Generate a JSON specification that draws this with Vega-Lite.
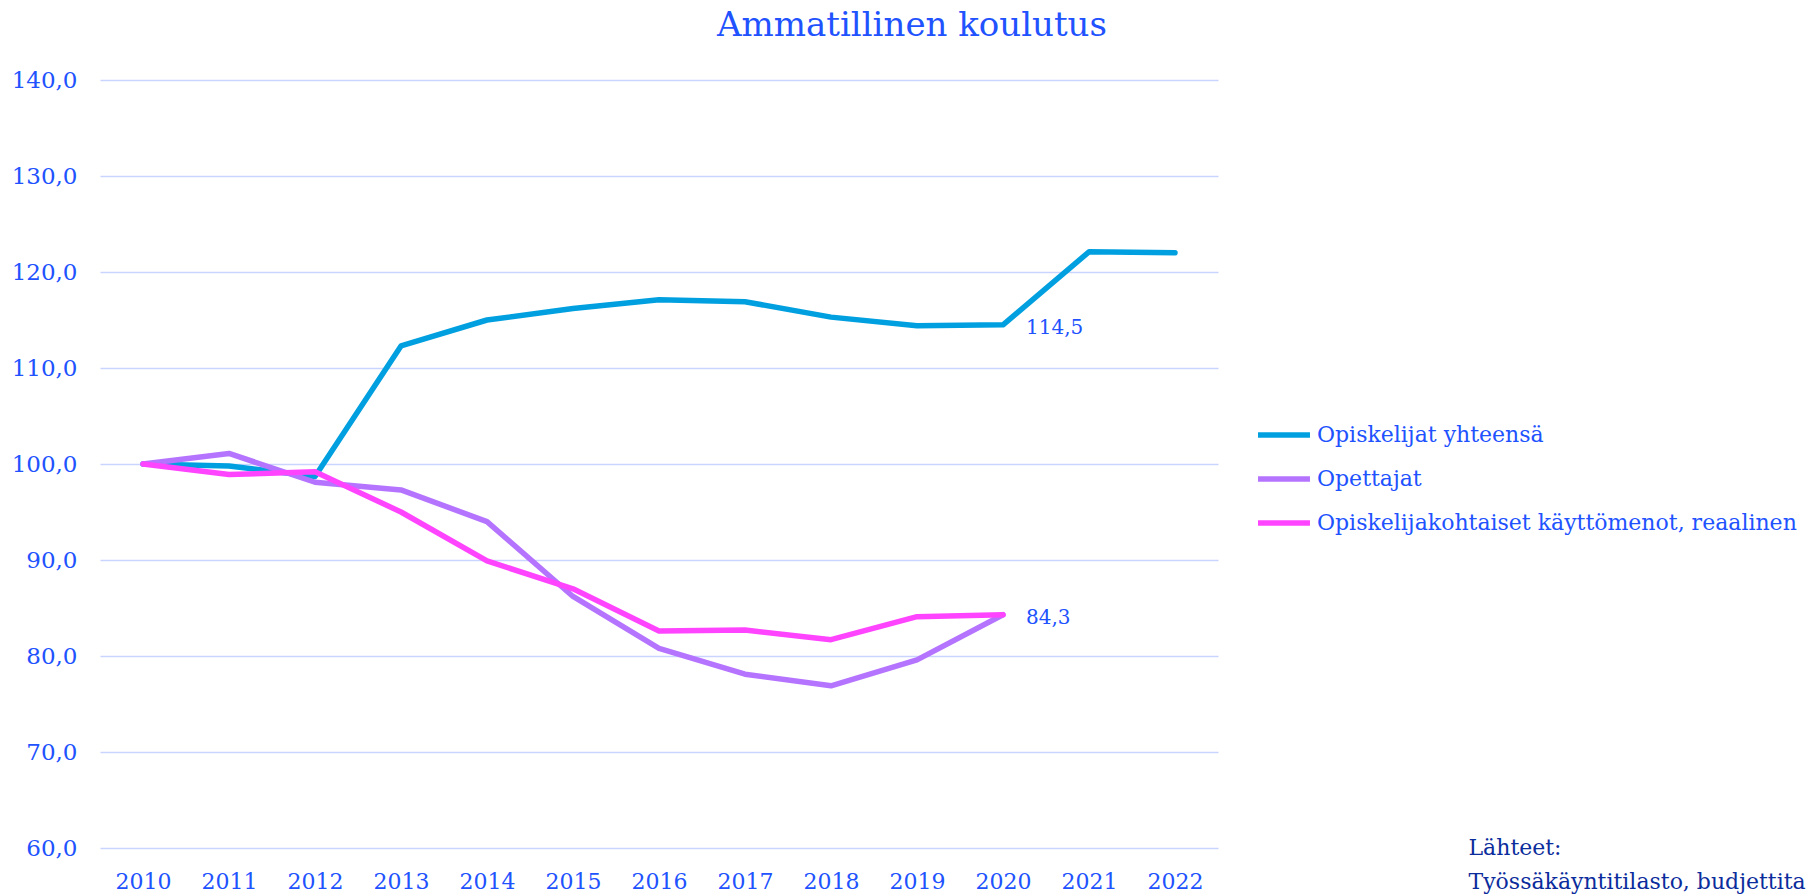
{
  "$schema": "https://vega.github.io/schema/vega-lite/v6.json",
  "width": 1118,
  "height": 768,
  "autosize": {"type": "none"},
  "padding": {"left": 100, "top": 80, "right": 588, "bottom": 46},
  "background": "white",
  "title": {
    "text": "Ammatillinen koulutus",
    "anchor": "middle",
    "frame": "group",
    "dx": 253,
    "fontSize": 34,
    "font": "DejaVu Serif",
    "fontWeight": "normal",
    "color": "#2152FF",
    "baseline": "alphabetic",
    "offset": -1
  },
  "config": {
    "locale": {"number": {"decimal": ",", "thousands": "\u00a0", "grouping": [3], "currency": ["", "\u00a0€"]}},
    "view": {"stroke": null},
    "font": "DejaVu Serif"
  },
  "data": {
    "values": [
      {"year": "2010", "series": "Opiskelijat yhteensä", "value": 100.0},
      {"year": "2011", "series": "Opiskelijat yhteensä", "value": 99.8},
      {"year": "2012", "series": "Opiskelijat yhteensä", "value": 98.7},
      {"year": "2013", "series": "Opiskelijat yhteensä", "value": 112.3},
      {"year": "2014", "series": "Opiskelijat yhteensä", "value": 115.0},
      {"year": "2015", "series": "Opiskelijat yhteensä", "value": 116.2},
      {"year": "2016", "series": "Opiskelijat yhteensä", "value": 117.1},
      {"year": "2017", "series": "Opiskelijat yhteensä", "value": 116.9},
      {"year": "2018", "series": "Opiskelijat yhteensä", "value": 115.3},
      {"year": "2019", "series": "Opiskelijat yhteensä", "value": 114.4},
      {"year": "2020", "series": "Opiskelijat yhteensä", "value": 114.5},
      {"year": "2021", "series": "Opiskelijat yhteensä", "value": 122.1},
      {"year": "2022", "series": "Opiskelijat yhteensä", "value": 122.0},
      {"year": "2010", "series": "Opettajat", "value": 100.0},
      {"year": "2011", "series": "Opettajat", "value": 101.1},
      {"year": "2012", "series": "Opettajat", "value": 98.1},
      {"year": "2013", "series": "Opettajat", "value": 97.3},
      {"year": "2014", "series": "Opettajat", "value": 94.0},
      {"year": "2015", "series": "Opettajat", "value": 86.2},
      {"year": "2016", "series": "Opettajat", "value": 80.8},
      {"year": "2017", "series": "Opettajat", "value": 78.1},
      {"year": "2018", "series": "Opettajat", "value": 76.9},
      {"year": "2019", "series": "Opettajat", "value": 79.6},
      {"year": "2020", "series": "Opettajat", "value": 84.3},
      {"year": "2010", "series": "Opiskelijakohtaiset käyttömenot, reaalinen", "value": 100.0},
      {"year": "2011", "series": "Opiskelijakohtaiset käyttömenot, reaalinen", "value": 98.9},
      {"year": "2012", "series": "Opiskelijakohtaiset käyttömenot, reaalinen", "value": 99.2},
      {"year": "2013", "series": "Opiskelijakohtaiset käyttömenot, reaalinen", "value": 95.0},
      {"year": "2014", "series": "Opiskelijakohtaiset käyttömenot, reaalinen", "value": 89.9},
      {"year": "2015", "series": "Opiskelijakohtaiset käyttömenot, reaalinen", "value": 87.0},
      {"year": "2016", "series": "Opiskelijakohtaiset käyttömenot, reaalinen", "value": 82.6},
      {"year": "2017", "series": "Opiskelijakohtaiset käyttömenot, reaalinen", "value": 82.7},
      {"year": "2018", "series": "Opiskelijakohtaiset käyttömenot, reaalinen", "value": 81.7},
      {"year": "2019", "series": "Opiskelijakohtaiset käyttömenot, reaalinen", "value": 84.1},
      {"year": "2020", "series": "Opiskelijakohtaiset käyttömenot, reaalinen", "value": 84.3}
    ]
  },
  "encoding": {
    "x": {
      "field": "year",
      "type": "ordinal",
      "scale": {"type": "point", "padding": 0.5},
      "axis": {
        "title": ["Lähteet:", "Työssäkäyntitilasto, budjettitalous"],
        "titleFont": "DejaVu Serif",
        "titleFontSize": 22,
        "titleFontWeight": "normal",
        "titleColor": "#0B2C9C",
        "titleAlign": "left",
        "titleAnchor": "start",
        "titleBaseline": "alphabetic",
        "titleLineHeight": 34,
        "titleX": 1368,
        "titleY": 6,
        "labelAngle": 0,
        "labelFontSize": 22,
        "labelColor": "#2152FF",
        "labelPadding": 23,
        "ticks": false,
        "domain": false,
        "grid": false
      }
    },
    "y": {
      "field": "value",
      "type": "quantitative",
      "scale": {"domain": [60, 140], "nice": false, "zero": false},
      "axis": {
        "title": null,
        "values": [60, 70, 80, 90, 100, 110, 120, 130, 140],
        "format": ".1f",
        "labelFontSize": 23,
        "labelColor": "#2152FF",
        "labelPadding": 23,
        "ticks": false,
        "domain": false,
        "grid": true,
        "gridColor": "#C9D4FF",
        "gridWidth": 1.5
      }
    }
  },
  "layer": [
    {
      "mark": {"type": "line", "strokeWidth": 5.5, "strokeCap": "round", "strokeJoin": "round"},
      "encoding": {
        "color": {
          "field": "series",
          "type": "nominal",
          "scale": {
            "domain": ["Opiskelijat yhteensä", "Opettajat", "Opiskelijakohtaiset käyttömenot, reaalinen"],
            "range": ["#00A0E0", "#B574FF", "#FF44FF"]
          },
          "legend": {
            "title": null,
            "orient": "none",
            "legendX": 1155,
            "legendY": 326,
            "symbolType": "stroke",
            "symbolSize": 2700,
            "symbolStrokeWidth": 5.5,
            "labelFontSize": 22,
            "labelColor": "#2152FF",
            "labelOffset": 4,
            "labelLimit": 0,
            "rowPadding": 4,
            "labelFont": "DejaVu Serif"
          }
        }
      }
    },
    {
      "transform": [{"filter": "datum.year == '2020' && datum.series != 'Opettajat'"}],
      "mark": {"type": "text", "align": "left", "baseline": "middle", "dx": 23, "dy": 3, "fontSize": 20, "color": "#2152FF", "font": "DejaVu Serif"},
      "encoding": {
        "text": {"field": "value", "type": "quantitative", "format": ".1f"}
      }
    }
  ]
}
